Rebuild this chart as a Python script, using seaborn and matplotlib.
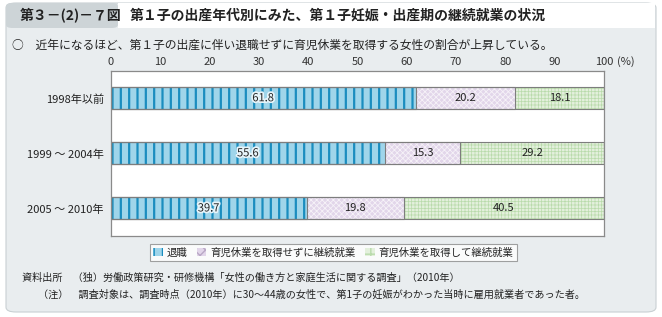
import numpy as np
import pandas as pd
import seaborn as sns
import matplotlib as mpl
import matplotlib.pyplot as plt
from matplotlib.patches import FancyBboxPatch, Patch, Rectangle
import matplotlib.patheffects as pe

# ---- data ----
categories = ["1998年以前", "1999 ～ 2004年", "2005 ～ 2010年"]
series_names = ["退職", "育児休業を取得せずに継続就業", "育児休業を取得して継続就業"]
retired = [61.8, 55.6, 39.7]
no_leave = [20.2, 15.3, 19.8]
with_leave = [18.1, 29.2, 40.5]
xticks = [0, 10, 20, 30, 40, 50, 60, 70, 80, 90, 100]

title_tab = "第３－(2)－７図"
title = "第１子の出産年代別にみた、第１子妊娠・出産期の継続就業の状況"
subtitle = "○　近年になるほど、第１子の出産に伴い退職せずに育児休業を取得する女性の割合が上昇している。"
note1 = "資料出所　（独）労働政策研究・研修機構「女性の働き方と家庭生活に関する調査」（2010年）"
note2 = "（注）　調査対象は、調査時点（2010年）に30～44歳の女性で、第1子の妊娠がわかった当時に雇用就業者であった者。"

# ---- style ----
sns.set_theme(style="white")
plt.rcParams['font.family'] = ['Noto Sans CJK JP', 'DejaVu Sans']

W, H = 662, 317
fig = plt.figure(figsize=(W / 100, H / 100), dpi=100)
fig.patch.set_facecolor('white')

def fx(px):
    return px / W

def fy(py):
    return 1 - py / H

# body background
fig.patches.append(FancyBboxPatch((fx(6), fy(312)), fx(650), (312 - 3) / H,
                                  boxstyle='round,pad=0,rounding_size=0.015',
                                  transform=fig.transFigure, fc='#e9edef', ec='#c9d0d3', lw=0.8, zorder=-3))
# header white area
fig.patches.append(Rectangle((fx(118), fy(28)), fx(537), 25 / H, transform=fig.transFigure,
                             fc='white', ec='none', zorder=-2))
# header tab
fig.patches.append(FancyBboxPatch((fx(6), fy(28)), fx(112), 25 / H,
                                  boxstyle='round,pad=0,rounding_size=0.01',
                                  transform=fig.transFigure, fc='#cdd4d7', ec='none', zorder=-2))

fig.text(fx(20), fy(16), title_tab, fontsize=10, fontweight='bold', color='#222', va='center', zorder=3)
fig.text(fx(130), fy(16), title, fontsize=10, fontweight='bold', color='#222', va='center', zorder=3)
fig.text(fx(12), fy(45), subtitle, fontsize=8.5, color='#222', va='center')
fig.text(fx(22), fy(278), note1, fontsize=7.3, color='#222', va='center')
fig.text(fx(38), fy(295), note2, fontsize=7.3, color='#222', va='center')

# ---- axes ----
ax = fig.add_axes([fx(110.7), fy(236), fx(604 - 110.7), (236 - 70.7) / H])
ax.set_facecolor('white')

df = pd.DataFrame({'cat': categories, 'r': retired, 'n': no_leave, 'w': with_leave})
cum1 = df['r']
cum2 = df['r'] + df['n']
cum3 = df['r'] + df['n'] + df['w']

blue_face, blue_hatch = '#9fd5ea', '#1a8dbf'
purple_face, purple_hatch = '#e2d6ea', '#f6f2f8'
green_face, green_hatch = '#e3f0dc', '#b9dbab'

layers = [
    (cum3, green_face, '+++++', green_hatch, 0.5),
    (cum2, purple_face, 'xxxxxx', purple_hatch, 0.6),
    (cum1, blue_face, '||', blue_hatch, 1.6),
]
for vals, face, hatch, hc, hlw in layers:
    with mpl.rc_context({'hatch.linewidth': hlw}):
        sns.barplot(x=vals, y=df['cat'], orient='h', color=face, saturation=1, width=0.4,
                    hatch=hatch, edgecolor=hc, linewidth=0, ax=ax)

# outlines
for vals in [cum3, cum2, cum1]:
    sns.barplot(x=vals, y=df['cat'], orient='h', fill=False, width=0.4,
                edgecolor='#7d7d7d', linewidth=0.8, ax=ax)

# value labels
for i in range(len(categories)):
    left = 0
    for j, vals in enumerate([retired, no_leave, with_leave]):
        v = vals[i]
        kw = {}
        if j == 0:
            kw['path_effects'] = [pe.withStroke(linewidth=2.5, foreground='#e6f4fa')]
        ax.text(left + v / 2, i, f"{v:.1f}", ha='center', va='center', fontsize=8,
                color='#222', **kw)
        left += v

ax.set_xlim(0, 100)
ax.set_ylim(2.5, -0.5)
ax.set_xlabel('')
ax.set_ylabel('')
ax.xaxis.tick_top()
ax.set_xticks(xticks)
ax.set_xticklabels([str(t) for t in xticks])
ax.tick_params(axis='x', length=0, pad=3, labelsize=8, colors='#333')
ax.tick_params(axis='y', length=0, pad=5, labelsize=8, colors='#222')
for s in ax.spines.values():
    s.set_color('#8a8a8a')
    s.set_linewidth(0.9)
ax.annotate("(%)", xy=(1, 1), xycoords='axes fraction', xytext=(9, 3),
            textcoords='offset points', fontsize=8, color='#333', va='bottom', ha='left',
            annotation_clip=False)

# legend
handles = [
    Patch(facecolor=blue_face, edgecolor=blue_hatch, hatch='||', linewidth=0),
    Patch(facecolor=purple_face, edgecolor='#b9a8c6', hatch='xxx', linewidth=0),
    Patch(facecolor=green_face, edgecolor=green_hatch, hatch='++', linewidth=0),
]
leg = fig.legend(handles, series_names, loc='center', bbox_to_anchor=(fx(333.5), fy(252.5)),
                 ncol=3, fontsize=7.5, frameon=True, fancybox=False, handlelength=0.9,
                 handleheight=0.9, handletextpad=0.4, columnspacing=0.9, borderpad=0.3)
leg.get_frame().set_edgecolor('#8a8a8a')
leg.get_frame().set_linewidth(0.8)
leg.get_frame().set_facecolor('white')

fig.savefig('out.png', dpi=100, facecolor=fig.get_facecolor())
